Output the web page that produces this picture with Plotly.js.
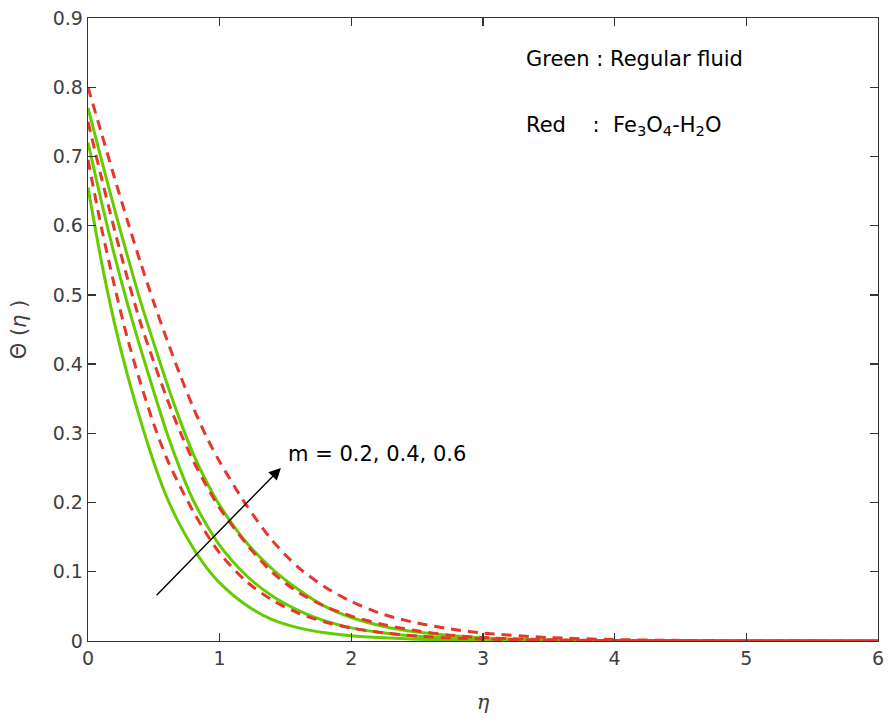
<!DOCTYPE html>
<html>
<head>
<meta charset="utf-8">
<script src="https://cdn.plot.ly/plotly-3.0.1.min.js"></script>
<style>html,body{margin:0;padding:0;background:#fff;}#chart{width:890px;height:720px;}</style>
</head>
<body>
<div id="chart"></div>
<script>
// eta grid
const eta = [0, 0.1, 0.2, 0.3, 0.4, 0.5, 0.6, 0.7, 0.8, 0.9, 1.0, 1.2, 1.4, 1.6, 1.8, 2.0, 2.25, 2.5, 2.75, 3.0, 3.5, 4.0, 4.5, 5.0, 5.5, 6.0];

// Regular fluid (green, solid), m = 0.2, 0.4, 0.6
const greenM02 = [0.655, 0.550, 0.460, 0.384, 0.318, 0.258, 0.207, 0.167, 0.134, 0.106, 0.084, 0.052, 0.031, 0.019, 0.0118, 0.0075, 0.0046, 0.0026, 0.0014, 0.0008, 0.0003, 0.0001, 0, 0, 0, 0];
const greenM04 = [0.720, 0.636, 0.558, 0.487, 0.422, 0.360, 0.300, 0.248, 0.203, 0.168, 0.138, 0.095, 0.065, 0.044, 0.029, 0.019, 0.0115, 0.0068, 0.0040, 0.0024, 0.0008, 0.0003, 0.0001, 0, 0, 0];
const greenM06 = [0.770, 0.697, 0.625, 0.556, 0.490, 0.430, 0.372, 0.318, 0.270, 0.230, 0.196, 0.143, 0.104, 0.074, 0.050, 0.034, 0.021, 0.013, 0.008, 0.0045, 0.0015, 0.0005, 0.0002, 0.0001, 0, 0];

// Fe3O4-H2O (red, dashed), m = 0.2, 0.4, 0.6
const redM02 = [0.695, 0.599, 0.514, 0.437, 0.372, 0.313, 0.263, 0.223, 0.187, 0.155, 0.127, 0.0865, 0.059, 0.040, 0.0275, 0.0187, 0.0116, 0.0072, 0.0045, 0.0028, 0.0011, 0.0004, 0.0002, 0.0001, 0, 0];
const redM04 = [0.750, 0.671, 0.595, 0.524, 0.459, 0.403, 0.350, 0.302, 0.260, 0.224, 0.192, 0.141, 0.099, 0.070, 0.050, 0.036, 0.0235, 0.0148, 0.0085, 0.005, 0.0018, 0.0006, 0.0002, 0.0001, 0, 0];
const redM06 = [0.800, 0.735, 0.670, 0.607, 0.546, 0.489, 0.435, 0.384, 0.337, 0.295, 0.259, 0.197, 0.145, 0.106, 0.078, 0.057, 0.038, 0.026, 0.0175, 0.0115, 0.005, 0.0021, 0.0009, 0.0004, 0.0002, 0.0001];

const xTicks = [0, 1, 2, 3, 4, 5, 6];
const yTicks = [0, 0.1, 0.2, 0.3, 0.4, 0.5, 0.6, 0.7, 0.8, 0.9];
const yTickText = ['0', '0.1', '0.2', '0.3', '0.4', '0.5', '0.6', '0.7', '0.8', '0.9'];

const GREEN = '#66CC00';
const RED = '#E5372A';

function greenTrace(y) {
  return {x: eta, y: y, type: 'scatter', mode: 'lines',
    line: {color: GREEN, width: 3, shape: 'spline', smoothing: 0.8}, showlegend: false, hoverinfo: 'skip'};
}
function redTrace(y) {
  return {x: eta, y: y, type: 'scatter', mode: 'lines',
    line: {color: RED, width: 3, dash: '10px,7px', shape: 'spline', smoothing: 0.8}, showlegend: false, hoverinfo: 'skip'};
}

const data = [
  greenTrace(greenM02), greenTrace(greenM04), greenTrace(greenM06),
  redTrace(redM02), redTrace(redM04), redTrace(redM06)
];

const tickFont = {family: 'DejaVu Sans, sans-serif', size: 19, color: '#404040'};
const noteFont = {family: 'DejaVu Sans, sans-serif', size: 21, color: '#000'};

const layout = {
  width: 890, height: 720,
  margin: {l: 88, r: 12, t: 18, b: 79},
  paper_bgcolor: '#fff', plot_bgcolor: '#fff',
  showlegend: false,
  xaxis: {
    range: [0, 6], tickvals: xTicks, ticktext: xTicks.map(String),
    ticks: 'inside', ticklen: 8, tickwidth: 1.3, tickcolor: '#333',
    showline: true, linecolor: '#333', linewidth: 1.3, mirror: 'ticks',
    showgrid: false, zeroline: false,
    tickfont: tickFont,
    title: {text: '<i>η</i>', font: {family: 'DejaVu Serif, serif', size: 21, color: '#404040'}, standoff: 26}
  },
  yaxis: {
    range: [0, 0.9], tickvals: yTicks, ticktext: yTickText,
    ticks: 'inside', ticklen: 8, tickwidth: 1.3, tickcolor: '#333',
    showline: true, linecolor: '#333', linewidth: 1.3, mirror: 'ticks',
    showgrid: false, zeroline: false,
    tickfont: tickFont,
    title: {text: 'Θ (<i>η</i> )', font: {family: 'DejaVu Sans, sans-serif', size: 21, color: '#404040'}, standoff: 20}
  },
  annotations: [
    {xref: 'paper', yref: 'paper', x: 0.552, y: 0.934, xanchor: 'left', yanchor: 'middle', showarrow: false,
     text: 'Green : Regular fluid', font: noteFont},
    {xref: 'paper', yref: 'paper', x: 0.552, y: 0.826, xanchor: 'left', yanchor: 'middle', showarrow: false,
     text: 'Red\u00a0\u00a0\u00a0\u00a0:\u00a0\u00a0Fe<sub>3</sub>O<sub>4</sub>-H<sub>2</sub>O', font: noteFont},
    {xref: 'x', yref: 'y', x: 1.465, y: 0.25, axref: 'x', ayref: 'y', ax: 0.51, ay: 0.064,
     showarrow: true, arrowhead: 2, arrowsize: 1.7, arrowwidth: 1.4, arrowcolor: '#000', text: ''},
    {xref: 'x', yref: 'y', x: 1.5, y: 0.27, xanchor: 'left', yanchor: 'middle', showarrow: false,
     text: 'm = 0.2, 0.4, 0.6', font: noteFont}
  ]
};

Plotly.newPlot('chart', data, layout, {displayModeBar: false, staticPlot: true});
</script>
</body>
</html>
